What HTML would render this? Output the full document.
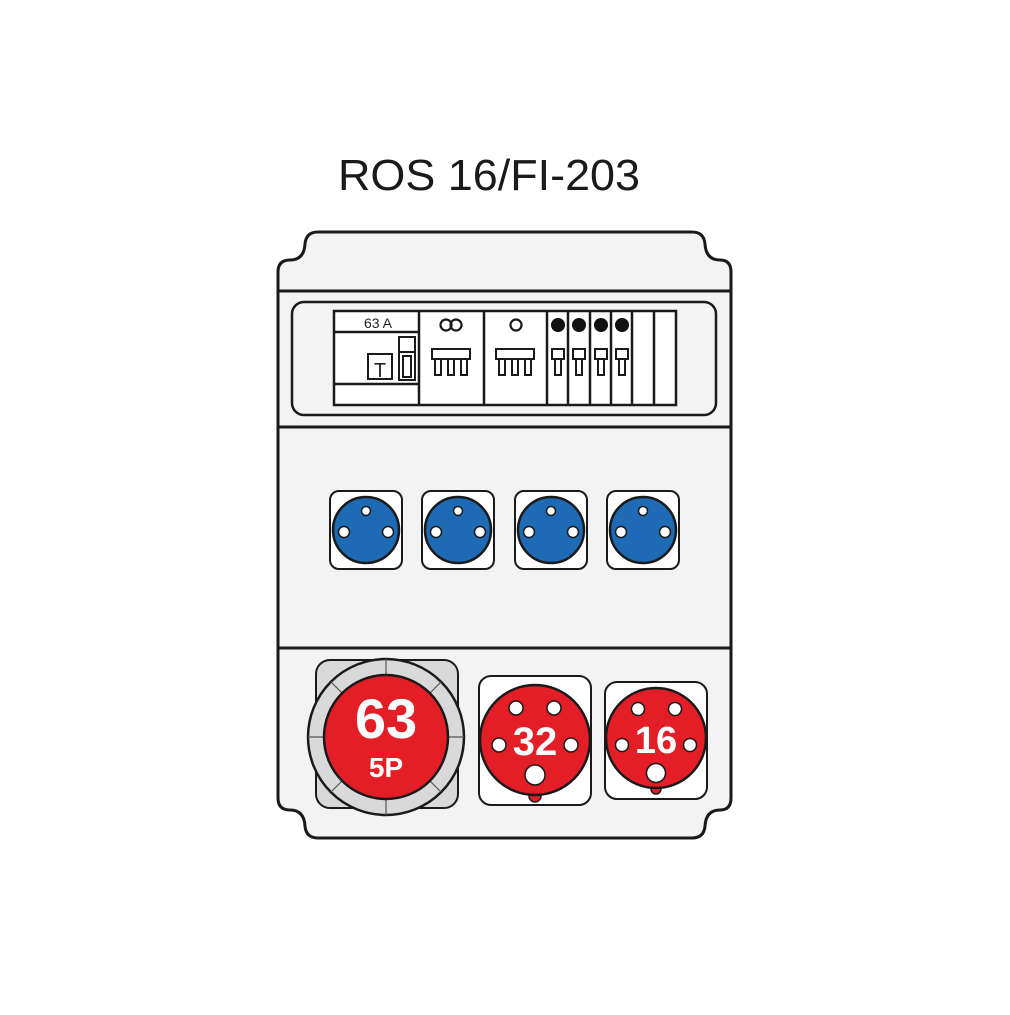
<!DOCTYPE html>
<html><head><style>body{margin:0;background:#fff}</style></head><body>
<svg width="1010" height="1010" viewBox="0 0 1010 1010" xmlns="http://www.w3.org/2000/svg" font-family="Liberation Sans, sans-serif">
<text x="489" y="190" font-size="44" text-anchor="middle" textLength="302" lengthAdjust="spacingAndGlyphs" fill="#1a1a1a">ROS 16/FI-203</text>
<path d="M318,232 H692 Q704,232 705,244 Q706,260 720,260 Q731,260 731,272 V798 Q731,810 720,810 Q706,810 705,826 Q704,838 692,838 H318 Q306,838 305,826 Q304,810 290,810 Q278,810 278,798 V272 Q278,260 290,260 Q304,260 305,244 Q306,232 318,232 Z" fill="#f3f3f3" stroke="#1a1a1a" stroke-width="3"/>
<g stroke="#1a1a1a" stroke-width="3"><line x1="278" y1="291" x2="731" y2="291"/><line x1="278" y1="427" x2="731" y2="427"/><line x1="278" y1="648" x2="731" y2="648"/></g>
<rect x="292" y="302" width="424" height="113" rx="12" fill="#f3f3f3" stroke="#1a1a1a" stroke-width="2.5"/>
<g fill="#fff" stroke="#1a1a1a" stroke-width="2.5">
<rect x="334" y="311" width="342" height="94"/>
</g>
<g stroke="#1a1a1a" stroke-width="2.5">
<line x1="334" y1="332" x2="419" y2="332"/><line x1="334" y1="384" x2="419" y2="384"/>
<line x1="419" y1="311" x2="419" y2="405"/><line x1="484" y1="311" x2="484" y2="405"/><line x1="547" y1="311" x2="547" y2="405"/>
<line x1="568" y1="311" x2="568" y2="405"/><line x1="590" y1="311" x2="590" y2="405"/><line x1="611" y1="311" x2="611" y2="405"/><line x1="632" y1="311" x2="632" y2="405"/><line x1="654" y1="311" x2="654" y2="405"/>
</g>
<text x="378" y="328" font-size="14" text-anchor="middle" fill="#222">63 A</text>
<g fill="#fff" stroke="#1a1a1a" stroke-width="2">
<rect x="368" y="354" width="24" height="25"/><rect x="399" y="337" width="16" height="43"/><line x1="399" y1="352" x2="415" y2="352"/><rect x="403" y="356" width="8" height="21"/>
</g>
<text x="380" y="377" font-size="20" text-anchor="middle" fill="#222">T</text>
<g fill="none" stroke="#1a1a1a" stroke-width="2.2"><circle cx="446" cy="325" r="5.5"/><circle cx="456" cy="325" r="5.5"/><circle cx="516" cy="325" r="5.5"/></g>
<g fill="#111"><circle cx="558" cy="325" r="7"/><circle cx="579" cy="325" r="7"/><circle cx="601" cy="325" r="7"/><circle cx="622" cy="325" r="7"/></g>
<g fill="#fff" stroke="#1a1a1a" stroke-width="2">
<rect x="432" y="349" width="38" height="10"/><rect x="435" y="359" width="6" height="16"/><rect x="448" y="359" width="6" height="16"/><rect x="461" y="359" width="6" height="16"/>
<rect x="496" y="349" width="38" height="10"/><rect x="499" y="359" width="6" height="16"/><rect x="512" y="359" width="6" height="16"/><rect x="525" y="359" width="6" height="16"/>
<rect x="552" y="349" width="12" height="10"/><rect x="555" y="359" width="6" height="16"/>
<rect x="573" y="349" width="12" height="10"/><rect x="576" y="359" width="6" height="16"/>
<rect x="595" y="349" width="12" height="10"/><rect x="598" y="359" width="6" height="16"/>
<rect x="616" y="349" width="12" height="10"/><rect x="619" y="359" width="6" height="16"/>
</g>
<g id="bs">
<rect x="330" y="491" width="72" height="78" rx="9" fill="#fff" stroke="#1a1a1a" stroke-width="2"/>
<circle cx="366" cy="530" r="33" fill="#1e6ab4" stroke="#1a1a1a" stroke-width="2.5"/>
<circle cx="366" cy="511" r="4.5" fill="#fff" stroke="#1a1a1a" stroke-width="1.5"/>
<circle cx="344" cy="532" r="5.5" fill="#fff" stroke="#1a1a1a" stroke-width="1.5"/>
<circle cx="388" cy="532" r="5.5" fill="#fff" stroke="#1a1a1a" stroke-width="1.5"/>
</g>
<use href="#bs" x="92"/><use href="#bs" x="185"/><use href="#bs" x="277"/>
<rect x="316" y="660" width="142" height="148" rx="14" fill="#d9d9d9" stroke="#1a1a1a" stroke-width="2"/>
<circle cx="386" cy="737" r="78" fill="#d9d9d9" stroke="#1a1a1a" stroke-width="2.5"/>
<g stroke="#555" stroke-width="1.2"><line x1="386" y1="659" x2="386" y2="815"/><line x1="308" y1="737" x2="464" y2="737"/><line x1="331" y1="682" x2="441" y2="792"/><line x1="441" y1="682" x2="331" y2="792"/></g>
<circle cx="386" cy="737" r="62" fill="#e31e26" stroke="#1a1a1a" stroke-width="2.5"/>
<text x="386" y="738" font-size="56" font-weight="bold" text-anchor="middle" fill="#fff">63</text>
<text x="386" y="777" font-size="28" font-weight="bold" text-anchor="middle" fill="#fff">5P</text>
<rect x="479" y="676" width="112" height="129" rx="12" fill="#fff" stroke="#1a1a1a" stroke-width="2"/>
<circle cx="535" cy="796" r="6" fill="#e31e26" stroke="#1a1a1a" stroke-width="1.5"/>
<circle cx="535" cy="740" r="55" fill="#e31e26" stroke="#1a1a1a" stroke-width="2.5"/>
<g fill="#fff" stroke="#1a1a1a" stroke-width="1.5"><circle cx="516" cy="708" r="7"/><circle cx="554" cy="708" r="7"/><circle cx="499" cy="745" r="7"/><circle cx="571" cy="745" r="7"/><circle cx="535" cy="775" r="10"/></g>
<text x="535" y="755" font-size="40" font-weight="bold" text-anchor="middle" fill="#fff">32</text>
<rect x="605" y="682" width="102" height="117" rx="12" fill="#fff" stroke="#1a1a1a" stroke-width="2"/>
<circle cx="656" cy="789" r="5" fill="#e31e26" stroke="#1a1a1a" stroke-width="1.5"/>
<circle cx="656" cy="738" r="50" fill="#e31e26" stroke="#1a1a1a" stroke-width="2.5"/>
<g fill="#fff" stroke="#1a1a1a" stroke-width="1.5"><circle cx="638" cy="709" r="6.5"/><circle cx="675" cy="709" r="6.5"/><circle cx="622" cy="745" r="6.5"/><circle cx="690" cy="745" r="6.5"/><circle cx="656" cy="773" r="9.5"/></g>
<text x="656" y="753" font-size="38" font-weight="bold" text-anchor="middle" fill="#fff">16</text>
</svg>
</body></html>
